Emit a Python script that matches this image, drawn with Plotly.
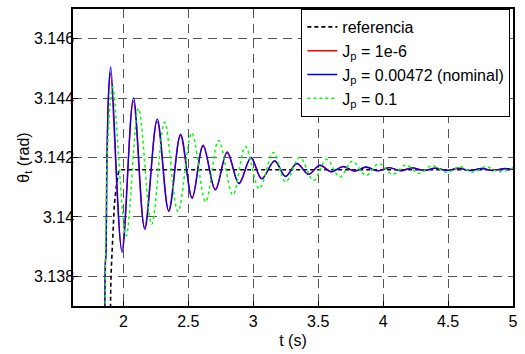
import plotly.graph_objects as go

# Reference trajectory (step of the set-point, smoothed at the start)
t_ref = [1.898, 1.899, 1.903, 1.907, 1.913, 1.919, 1.930, 1.945, 1.955, 1.964, 1.975, 1.985, 5.0]
y_ref = [3.1360, 3.1370, 3.1377, 3.13827, 3.1390, 3.13959, 3.1404, 3.14101, 3.14135, 3.14154, 3.14159, 3.14159, 3.14159]

# J_p = 1e-6
t_j1 = [1.857, 1.861, 1.865, 1.873, 1.887, 1.901, 1.988, 2.076, 2.163, 2.259, 2.348, 2.439, 2.528,
        2.613, 2.707, 2.798, 2.889, 2.981, 3.064, 3.163, 3.247, 3.335, 3.424, 3.512, 3.601, 3.690,
        3.778, 3.867, 3.956, 4.045, 4.134, 4.223, 4.312, 4.401, 4.490, 4.579, 4.668, 4.757, 4.846,
        4.935, 5.0]
y_j1 = [3.1300, 3.1385, 3.1387, 3.1420, 3.1442, 3.14485, 3.13890, 3.14390, 3.13965, 3.14322, 3.14022,
        3.14274, 3.14065, 3.14238, 3.14093, 3.14216, 3.14114, 3.14198, 3.14129, 3.14187, 3.14137,
        3.14179, 3.14144, 3.14173, 3.14152, 3.14169, 3.14154, 3.14167, 3.14155, 3.14166, 3.14156,
        3.14165, 3.14156, 3.14164, 3.14157, 3.14163, 3.14157, 3.14163, 3.14157, 3.14162, 3.14160]

# J_p = 0.00472 (nominal)
t_jn = [1.858, 1.862, 1.866, 1.874, 1.888, 1.903, 1.990, 2.078, 2.165, 2.261, 2.350, 2.441, 2.530,
        2.615, 2.709, 2.800, 2.891, 2.983, 3.066, 3.165, 3.249, 3.337, 3.426, 3.514, 3.603, 3.692,
        3.780, 3.869, 3.958, 4.047, 4.136, 4.225, 4.314, 4.403, 4.492, 4.581, 4.670, 4.759, 4.848,
        4.937, 5.0]
y_jn = [3.1300, 3.1385, 3.1387, 3.1420, 3.1444, 3.14505, 3.13881, 3.14401, 3.13958, 3.14330, 3.14018,
        3.14279, 3.14062, 3.14242, 3.14090, 3.14219, 3.14112, 3.14200, 3.14128, 3.14189, 3.14136,
        3.14180, 3.14143, 3.14174, 3.14152, 3.14170, 3.14154, 3.14168, 3.14155, 3.14166, 3.14155,
        3.14165, 3.14156, 3.14164, 3.14156, 3.14164, 3.14156, 3.14163, 3.14156, 3.14163, 3.14160]

# J_p = 0.1
t_j2 = [1.856, 1.866, 1.880, 1.917, 2.021, 2.116, 2.218, 2.317, 2.420, 2.527, 2.633, 2.733, 2.843,
        2.940, 3.046, 3.155, 3.249, 3.358, 3.464, 3.565, 3.666, 3.763, 3.869, 3.966, 4.072, 4.173,
        4.275, 4.376, 4.490, 4.591, 4.692, 4.793, 4.895, 5.0]
y_j2 = [3.1300, 3.1400, 3.1425, 3.14437, 3.13936, 3.14365, 3.13975, 3.14319, 3.14018, 3.14283, 3.14051,
        3.14257, 3.14074, 3.14237, 3.14095, 3.14217, 3.14118, 3.14200, 3.14123, 3.14194, 3.14134,
        3.14187, 3.14140, 3.14180, 3.14143, 3.14175, 3.14147, 3.14173, 3.14150, 3.14169, 3.14151,
        3.14169, 3.14152, 3.14166]

x_ticks = [2, 2.5, 3, 3.5, 4, 4.5, 5]
x_labels = ["2", "2.5", "3", "3.5", "4", "4.5", "5"]
y_ticks = [3.138, 3.140, 3.142, 3.144, 3.146]
y_labels = ["3.138", "3.14", "3.142", "3.144", "3.146"]

FONT = "Liberation Sans, Arial, sans-serif"
FS = 16

fig = go.Figure()
fig.add_trace(go.Scatter(x=t_ref, y=y_ref, mode="lines", name="referencia",
                         line=dict(color="black", width=1.6, dash="4px,3px")))
fig.add_trace(go.Scatter(x=t_j1, y=y_j1, mode="lines", name="J<sub>p</sub> = 1e-6",
                         line=dict(color="#ff0000", width=1.4, shape="spline")))
fig.add_trace(go.Scatter(x=t_jn, y=y_jn, mode="lines", name="J<sub>p</sub> = 0.00472 (nominal)",
                         line=dict(color="#0000ff", width=1.3, shape="spline")))
fig.add_trace(go.Scatter(x=t_j2, y=y_j2, mode="lines", name="J<sub>p</sub> = 0.1",
                         line=dict(color="#00ff00", width=1.5, dash="dot", shape="spline")))

axis_common = dict(
    showline=True, linecolor="black", linewidth=1.5, mirror=True,
    showgrid=True, gridcolor="#555555", gridwidth=1, griddash="9px,6px",
    zeroline=False, ticks="inside", ticklen=5, tickcolor="black",
    tickfont=dict(family=FONT, size=FS, color="black"),
)

fig.update_xaxes(range=[1.612, 5.0], tickvals=x_ticks, ticktext=x_labels,
                 title=dict(text="t (s)", font=dict(family=FONT, size=FS, color="black"), standoff=6),
                 **axis_common)
fig.update_yaxes(range=[3.137, 3.147], tickvals=y_ticks, ticktext=y_labels, ticklabelstandoff=-6,
                 title=dict(text="θ<sub>t</sub> (rad)", font=dict(family=FONT, size=FS, color="black"), standoff=0),
                 **axis_common)

fig.update_layout(
    width=525, height=354,
    margin=dict(l=73, r=7, t=8, b=42),
    plot_bgcolor="white", paper_bgcolor="white",
    font=dict(family=FONT, size=FS, color="black"),
    legend=dict(x=0.994, y=1.0, xanchor="right", yanchor="top",
                bgcolor="white", bordercolor="black", borderwidth=1,
                font=dict(family=FONT, size=FS, color="black"),
                tracegroupgap=0, itemwidth=30),
    showlegend=True,
)

fig.write_html("out.html")
